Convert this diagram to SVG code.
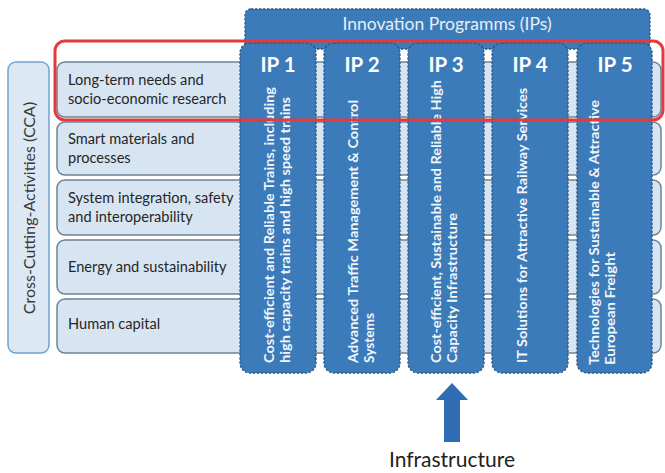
<svg xmlns="http://www.w3.org/2000/svg" width="665" height="473" viewBox="0 0 665 473">
<style>
.row{fill:#d7e5f3;stroke:#6f8296;stroke-width:1.5}
.ip{fill:#3c7bb9;stroke:#2a5784;stroke-width:1.3;stroke-dasharray:2.5 1.5}
.rt{font-family:Lato,"Open Sans",sans-serif;font-size:14.6px;fill:#262626}
.ipt{font-family:Lato,"Open Sans",sans-serif;font-size:20.5px;font-weight:700;fill:#ffffff;text-anchor:middle}
.vt{font-family:Lato,"Open Sans",sans-serif;font-size:13px;font-weight:700;fill:#f2f6fb}
</style>
<rect width="665" height="473" fill="#ffffff"/>
<g id="banner">
<rect x="245" y="9" width="405" height="40" rx="6" class="ip"/>
<text x="447" y="30" font-family="Lato,'Open Sans',sans-serif" font-size="17.5" fill="#e8eef6" text-anchor="middle">Innovation Programms (IPs)</text>
</g>
<g id="cca">
<rect x="8" y="62" width="41" height="291" rx="8" fill="#dce8f4" stroke="#6fa3d3" stroke-width="1.5"/>
<text transform="translate(35,208) rotate(-90)" font-family="Lato,'Open Sans',sans-serif" font-size="16" fill="#3a3a3a" text-anchor="middle">Cross-Cutting-Activities (CCA)</text>
</g>
<g id="row1"><rect x="57" y="62" width="604" height="55" rx="8" class="row"/>
<text class="rt" x="68" y="85">Long-term needs and</text><text class="rt" x="68" y="104">socio-economic research</text></g>
<g id="row2"><rect x="57" y="122" width="604" height="53" rx="8" class="row"/>
<text class="rt" x="68" y="144">Smart materials and</text><text class="rt" x="68" y="163">processes</text></g>
<g id="row3"><rect x="57" y="180" width="604" height="55" rx="8" class="row"/>
<text class="rt" x="68" y="203">System integration, safety</text><text class="rt" x="68" y="222">and interoperability</text></g>
<g id="row4"><rect x="57" y="240" width="604" height="54" rx="8" class="row"/>
<text class="rt" x="68" y="272">Energy and sustainability</text></g>
<g id="row5"><rect x="57" y="299" width="604" height="54" rx="8" class="row"/>
<text class="rt" x="68" y="329">Human capital</text></g>
<g id="ip1"><rect x="240" y="43" width="76" height="330" rx="10" class="ip"/>
<text class="ipt" x="278" y="72">IP 1</text>
<text class="vt" transform="translate(274,363) rotate(-90)" textLength="276" lengthAdjust="spacingAndGlyphs">Cost-efficient and Reliable Trains, including</text>
<text class="vt" transform="translate(290,363) rotate(-90)" textLength="266" lengthAdjust="spacingAndGlyphs">high capacity trains and high speed trains</text></g>
<g id="ip2"><rect x="324" y="43" width="76" height="330" rx="10" class="ip"/>
<text class="ipt" x="362" y="72">IP 2</text>
<text class="vt" transform="translate(358,363) rotate(-90)" textLength="263" lengthAdjust="spacingAndGlyphs">Advanced Traffic Management &amp; Control</text>
<text class="vt" transform="translate(374,363) rotate(-90)" textLength="50" lengthAdjust="spacingAndGlyphs">Systems</text></g>
<g id="ip3"><rect x="408" y="43" width="76" height="330" rx="10" class="ip"/>
<text class="ipt" x="446" y="72">IP 3</text>
<text class="vt" transform="translate(441,363) rotate(-90)" textLength="283" lengthAdjust="spacingAndGlyphs">Cost-efficient, Sustainable and Reliable High</text>
<text class="vt" transform="translate(457,363) rotate(-90)" textLength="150" lengthAdjust="spacingAndGlyphs">Capacity Infrastructure</text></g>
<g id="ip4"><rect x="492" y="43" width="76" height="330" rx="10" class="ip"/>
<text class="ipt" x="530" y="72">IP 4</text>
<text class="vt" transform="translate(527,363) rotate(-90)" textLength="275" lengthAdjust="spacingAndGlyphs">IT Solutions for Attractive Railway Services</text></g>
<g id="ip5"><rect x="577" y="43" width="75" height="330" rx="10" class="ip"/>
<text class="ipt" x="615" y="72">IP 5</text>
<text class="vt" transform="translate(599,365) rotate(-90)" textLength="265" lengthAdjust="spacingAndGlyphs">Technologies for Sustainable &amp; Attractive</text>
<text class="vt" transform="translate(615,365) rotate(-90)" textLength="113" lengthAdjust="spacingAndGlyphs">European Freight</text></g>
<g id="highlight">
<rect x="55" y="41" width="608" height="79" rx="10" fill="none" stroke="#e23b3b" stroke-width="3"/>
</g>
<g id="connectors">
<polygon points="452,383 468,400 460,400 460,442 444,442 444,400 436,400" fill="#2f6cb3"/>
</g>
<g id="infrastructure">
<text x="452" y="467" font-family="Lato,'Open Sans',sans-serif" font-size="21" fill="#222222" text-anchor="middle">Infrastructure</text>
</g>
</svg>
